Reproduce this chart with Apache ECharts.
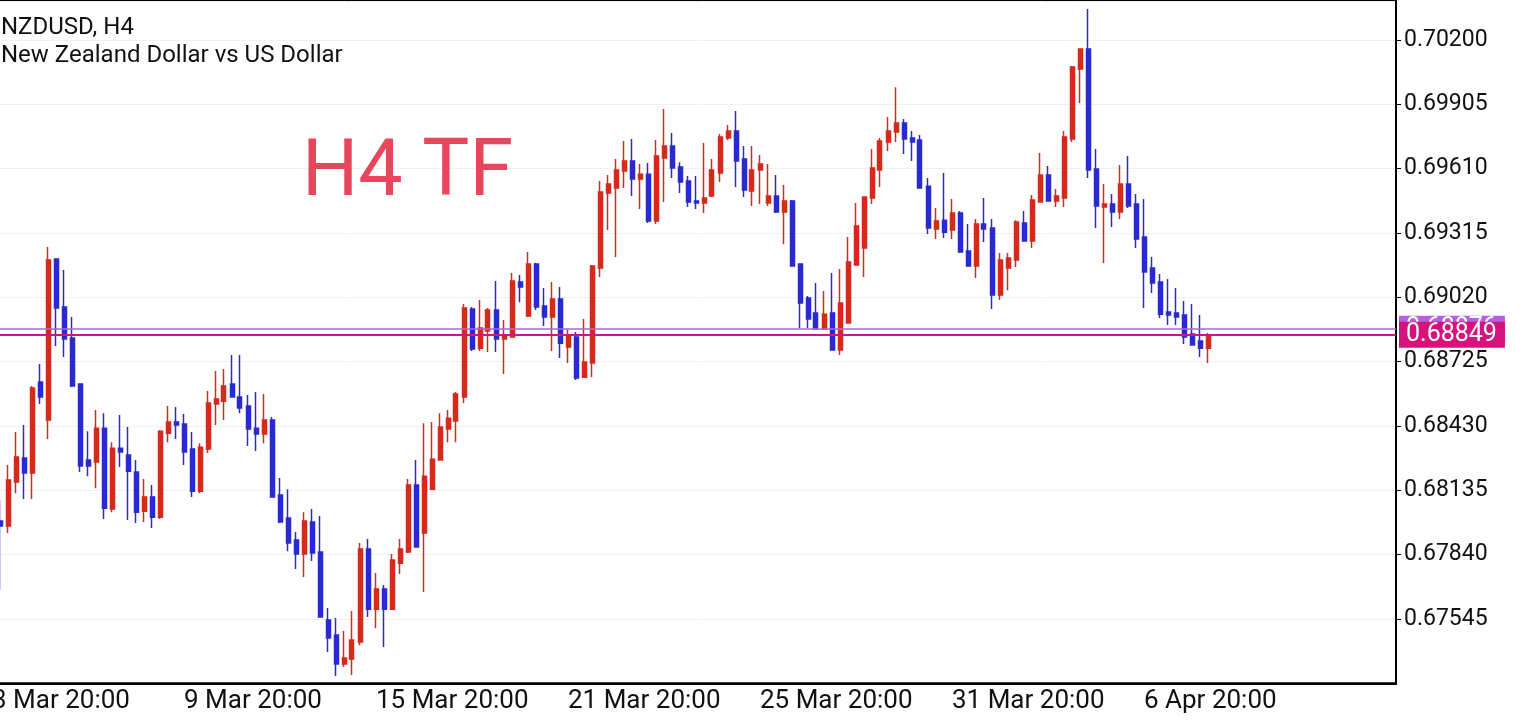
<!DOCTYPE html>
<html>
<head>
<meta charset="utf-8">
<script src="https://cdn.jsdelivr.net/npm/echarts@6/dist/echarts.min.js"></script>
<style>
html,body{margin:0;padding:0;background:#fff;}
#chart{width:1527px;height:720px;}
</style>
</head>
<body>
<div id="chart"></div>
<script>
// ---- data (NZDUSD H4), one entry per bar, oldest first ----
const OPEN = [0.67994,0.67971,0.68173,0.68283,0.68214,0.68632,0.68457,0.69196,0.68976,0.68833,
0.68623,0.68274,0.68265,0.68420,0.68049,0.68328,0.68297,0.68219,0.68039,0.68104,
0.68012,0.68397,0.68448,0.68439,0.68324,0.68131,0.68324,0.68531,0.68544,0.68623,
0.68563,0.68522,0.68420,0.68393,0.68457,0.68113,0.68008,0.67907,0.67843,0.67990,
0.67852,0.67540,0.67471,0.67338,0.67361,0.67439,0.67866,0.67590,0.67682,0.67590,
0.67801,0.67852,0.68159,0.67939,0.68140,0.68274,0.68416,0.68453,0.68563,0.68966,
0.68787,0.68866,0.68962,0.68829,0.68838,0.69090,0.68934,0.69173,0.68980,0.68930,
0.69012,0.68792,0.68838,0.68654,0.68719,0.69154,0.69498,0.69521,0.69599,0.69645,
0.69563,0.69585,0.69370,0.69659,0.69714,0.69618,0.69553,0.69462,0.69453,0.69485,
0.69590,0.69751,0.69783,0.69654,0.69508,0.69604,0.69453,0.69485,0.69411,0.69462,
0.69173,0.69017,0.68948,0.68875,0.68948,0.68778,0.68902,0.69168,0.69246,0.69475,
0.69604,0.69732,0.69778,0.69819,0.69751,0.69741,0.69530,0.69333,0.69374,0.69329,
0.69407,0.69232,0.69164,0.69356,0.69338,0.69031,0.69154,0.69191,0.69361,0.69278,
0.69457,0.69581,0.69462,0.69475,0.69746,0.70067,0.70159,0.69608,0.69434,0.69448,
0.69411,0.69540,0.69448,0.69297,0.69154,0.69090,0.68953,0.68948,0.68939,0.68852,
0.68820,0.68787];
const CLOSE = [0.67971,0.68182,0.68288,0.68214,0.68604,0.68563,0.69191,0.68971,0.68829,0.68613,
0.68246,0.68246,0.68420,0.68053,0.68328,0.68311,0.68223,0.68035,0.68104,0.68012,
0.68406,0.68448,0.68434,0.68311,0.68131,0.68333,0.68535,0.68554,0.68613,0.68563,
0.68512,0.68416,0.68393,0.68457,0.68104,0.67990,0.67893,0.67843,0.67994,0.67847,
0.67554,0.67458,0.67338,0.67366,0.67448,0.67866,0.67590,0.67682,0.67590,0.67815,
0.67866,0.68159,0.67875,0.68200,0.68278,0.68425,0.68466,0.68577,0.68971,0.68783,
0.68879,0.68962,0.68829,0.68847,0.69095,0.69067,0.69173,0.68976,0.68930,0.69012,
0.68810,0.68847,0.68650,0.68723,0.69164,0.69503,0.69540,0.69604,0.69645,0.69563,
0.69585,0.69370,0.69668,0.69714,0.69613,0.69549,0.69457,0.69453,0.69475,0.69604,
0.69755,0.69783,0.69645,0.69512,0.69604,0.69631,0.69485,0.69411,0.69462,0.69164,
0.68994,0.68921,0.68875,0.68943,0.68778,0.68994,0.69182,0.69347,0.69480,0.69613,
0.69737,0.69783,0.69819,0.69746,0.69732,0.69521,0.69338,0.69370,0.69319,0.69407,
0.69228,0.69164,0.69356,0.69333,0.69031,0.69191,0.69200,0.69365,0.69278,0.69466,
0.69581,0.69462,0.69485,0.69755,0.70076,0.70159,0.69604,0.69439,0.69448,0.69411,
0.69540,0.69439,0.69287,0.69136,0.69086,0.68943,0.68939,0.68930,0.68838,0.68801,
0.68787,0.68849];
const LOW = [0.67678,0.67939,0.68122,0.68095,0.68095,0.68531,0.68370,0.68797,0.68746,0.68609,
0.68219,0.68200,0.68145,0.68003,0.68035,0.68242,0.67999,0.67985,0.67990,0.67962,
0.68003,0.68356,0.68370,0.68251,0.68104,0.68122,0.68306,0.68434,0.68457,0.68563,
0.68489,0.68338,0.68315,0.68351,0.68104,0.67985,0.67856,0.67774,0.67737,0.67811,
0.67554,0.67393,0.67283,0.67325,0.67288,0.67425,0.67554,0.67503,0.67416,0.67586,
0.67751,0.67847,0.67875,0.67669,0.68140,0.68274,0.68356,0.68356,0.68535,0.68774,
0.68774,0.68769,0.68769,0.68668,0.68838,0.68998,0.68930,0.68962,0.68888,0.68774,
0.68742,0.68719,0.68641,0.68654,0.68654,0.69113,0.69329,0.69205,0.69521,0.69485,
0.69425,0.69361,0.69356,0.69457,0.69567,0.69498,0.69434,0.69425,0.69407,0.69480,
0.69549,0.69741,0.69526,0.69480,0.69439,0.69448,0.69439,0.69407,0.69264,0.69164,
0.68879,0.68879,0.68875,0.68875,0.68778,0.68755,0.68902,0.69168,0.69113,0.69448,
0.69526,0.69691,0.69732,0.69677,0.69645,0.69521,0.69310,0.69287,0.69292,0.69287,
0.69228,0.69164,0.69109,0.69274,0.68966,0.69008,0.69053,0.69159,0.69278,0.69246,
0.69457,0.69462,0.69434,0.69434,0.69732,0.69911,0.69567,0.69338,0.69177,0.69343,
0.69379,0.69430,0.69246,0.68971,0.69040,0.68925,0.68893,0.68893,0.68806,0.68801,
0.68746,0.68719];
const HIGH = [0.68090,0.68251,0.68402,0.68434,0.68613,0.68714,0.69251,0.69196,0.69145,0.68930,
0.68623,0.68406,0.68503,0.68489,0.68356,0.68480,0.68425,0.68274,0.68187,0.68159,
0.68411,0.68522,0.68517,0.68485,0.68402,0.68351,0.68590,0.68682,0.68691,0.68755,
0.68755,0.68572,0.68586,0.68577,0.68471,0.68191,0.68140,0.67944,0.68035,0.68049,
0.68017,0.67595,0.67549,0.67490,0.67581,0.67893,0.67912,0.67756,0.67701,0.67843,
0.67912,0.68187,0.68274,0.68443,0.68448,0.68489,0.68503,0.68586,0.68989,0.68976,
0.69008,0.68971,0.69095,0.68916,0.69132,0.69122,0.69228,0.69177,0.69063,0.69090,
0.69067,0.68875,0.68861,0.68921,0.69168,0.69553,0.69581,0.69654,0.69737,0.69746,
0.69631,0.69636,0.69741,0.69884,0.69774,0.69640,0.69576,0.69576,0.69728,0.69654,
0.69769,0.69810,0.69874,0.69714,0.69714,0.69673,0.69631,0.69581,0.69535,0.69466,
0.69173,0.69026,0.69086,0.69049,0.69132,0.69150,0.69297,0.69453,0.69480,0.69700,
0.69751,0.69847,0.69984,0.69838,0.69783,0.69764,0.69567,0.69430,0.69590,0.69471,
0.69416,0.69356,0.69379,0.69475,0.69379,0.69223,0.69223,0.69374,0.69416,0.69489,
0.69682,0.69622,0.69517,0.69783,0.70081,0.70159,0.70342,0.69700,0.69540,0.69494,
0.69627,0.69668,0.69494,0.69471,0.69205,0.69127,0.69104,0.69063,0.69003,0.68989,
0.68939,0.68856];

// time-axis labels: every 24 bars (bar -1 is the off-screen bar left of the first one)
const TIME_LABELS = ['3 Mar 20:00','9 Mar 20:00','15 Mar 20:00','21 Mar 20:00','25 Mar 20:00','31 Mar 20:00','6 Apr 20:00'];
const TIME_LABEL_BARS = [-1, 23, 47, 71, 95, 119, 143];

// price scale ticks
const PRICE_TICK_BASE = 0.67545;
const PRICE_TICK_STEP = 0.00295;
const PRICE_MIN = 0.67250;
const PRICE_MAX = 0.70379;

// current prices
const BID_PRICE = 0.68849;
const ASK_PRICE = 0.68876;

// ---- build ----
const SLOTS = 176; // bar slots across the plot, incl. the one off-screen on the left
const categories = [];
for (let c = 0; c < SLOTS; c++) categories.push('bar' + (c - 1));
const labelMap = {};
TIME_LABEL_BARS.forEach((b, k) => { labelMap['bar' + b] = TIME_LABELS[k]; });

const candleData = OPEN.map((o, i) => ['bar' + i, o, CLOSE[i], LOW[i], HIGH[i]]);

const UP = '#d8281c';
const DOWN = '#2a2ad2';
const FONT = 'Roboto';

const priceLabel = (color) => ({
  show: true, position: 'end', distance: 3,
  formatter: (p) => Number(p.value).toFixed(5),
  backgroundColor: color, color: '#fff', fontFamily: FONT, fontSize: 25,
  padding: [1, 8, 0, 7], lineHeight: 25
});

const chart = echarts.init(document.getElementById('chart'), null, {renderer: 'canvas'});
chart.setOption({
  animation: false,
  backgroundColor: '#ffffff',
  title: {
    text: 'NZDUSD, H4\nNew Zealand Dollar vs US Dollar',
    left: 1, top: 14, padding: 0,
    textStyle: {fontFamily: FONT, fontSize: 24, fontWeight: 'normal', color: '#111', lineHeight: 28}
  },
  grid: {
    left: -12, top: 1, width: 8 * SLOTS, height: 682.3,
    containLabel: false, outerBoundsMode: 'none',
    show: true, borderColor: '#000', borderWidth: 2, backgroundColor: '#fff'
  },
  xAxis: {
    type: 'category',
    data: categories,
    boundaryGap: true,
    axisLine: {show: true, onZero: false, lineStyle: {color: '#000', width: 2}},
    axisTick: {show: false},
    splitLine: {show: false},
    axisLabel: {
      interval: (idx, val) => labelMap[val] !== undefined,
      formatter: (val) => labelMap[val] || '',
      align: 'left',
      margin: 5,
      fontFamily: FONT, fontSize: 26, color: '#111'
    }
  },
  yAxis: [
    {
      type: 'value', min: PRICE_MIN, max: PRICE_MAX, show: false, scale: true
    },
    {
      type: 'value', position: 'right',
      min: -PRICE_TICK_STEP, max: PRICE_MAX - PRICE_TICK_BASE, interval: PRICE_TICK_STEP,
      axisLine: {show: true, lineStyle: {color: '#000', width: 2}},
      axisTick: {show: true, length: 5, lineStyle: {color: '#000', width: 1}},
      splitLine: {show: true, lineStyle: {color: '#f1f1f1', width: 1}},
      axisLabel: {
        showMinLabel: false, showMaxLabel: false, margin: 8,
        fontFamily: FONT, fontSize: 23, color: '#111',
        formatter: (v) => (v + PRICE_TICK_BASE).toFixed(5)
      }
    }
  ],
  graphic: [{
    type: 'text', left: 302, top: 136, z: 1,
    style: {text: 'H4 TF', fontFamily: FONT, fontSize: 79, fill: '#e8465c'}
  }],
  series: [
    {
      type: 'candlestick',
      yAxisIndex: 0,
      data: candleData,
      encode: {x: 0, y: [1, 2, 3, 4]},
      barWidth: 4.5,
      itemStyle: {color: UP, color0: DOWN, borderColor: UP, borderColor0: DOWN, borderWidth: 1.5}
    },
    {
      type: 'line',
      yAxisIndex: 0,
      data: [],
      silent: true,
      markLine: {
        symbol: 'none', silent: true, animation: false, precision: 5,
        data: [
          {yAxis: ASK_PRICE, lineStyle: {color: '#b55fe2', width: 1.5, type: 'solid'}, label: priceLabel('#b55fe2')},
          {yAxis: BID_PRICE, lineStyle: {color: '#d4137d', width: 2, type: 'solid'}, label: priceLabel('#d4137d')}
        ]
      }
    }
  ]
});
</script>
</body>
</html>
